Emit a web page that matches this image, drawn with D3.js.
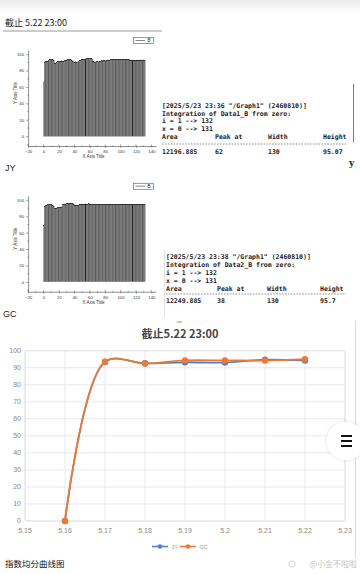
<!DOCTYPE html>
<html><head><meta charset="utf-8">
<script src="https://cdn.jsdelivr.net/npm/d3@7"></script>
<style>
html,body{margin:0;padding:0;background:#fff;}
svg{display:block;}
</style></head>
<body>
<svg id="c" width="360" height="574"></svg>
<script>
// ---------- data ----------
const barsData1 = [66.2,
 90.4, 90.9, 91.3, 91.0, 91.6, 92.1, 92.6,
 93.2, 93.6, 93.8, 93.5, 93.1, 92.4,
 89.1, 88.4, 88.7, 89.6,
 91.0, 91.3, 91.5, 91.4, 91.6, 91.8, 91.5, 91.3, 91.6, 91.9, 92.2, 92.6, 93.0,
 93.4, 93.6, 93.5, 93.7, 93.4, 92.8, 91.9,
 90.9, 90.6, 90.4, 90.7, 90.5, 90.3, 90.6, 90.8, 91.2, 91.9, 92.8,
 93.4, 93.6, 93.8, 93.7, 94.0, 94.2, 94.1, 94.3, 94.5, 94.4, 94.6, 94.8, 94.9, 95.07, 94.2,
 91.3, 90.7, 90.5, 90.6, 90.4, 90.7, 90.8, 90.6, 91.0, 91.4,
 91.7, 91.9, 92.0, 91.8, 91.9, 92.1, 91.8, 91.9, 92.0, 92.2, 92.1, 92.4, 92.8, 93.2,
 93.4, 93.5, 93.6, 93.5, 93.7, 93.6, 93.5, 93.4, 93.6, 93.7, 93.5, 93.6, 93.4, 93.5, 93.6,
 93.7, 93.5, 93.4, 93.6, 93.5, 93.3, 93.5, 93.4, 93.2, 93.0, 92.9,
 92.7, 92.6, 92.8, 92.7, 92.5, 92.6, 92.8, 92.9, 92.7, 92.6, 92.8, 92.9, 93.0, 92.8, 92.7,
 92.9, 93.0, 92.8];
const barsData2 = [68.4,
 91.6, 92.3,
 93.5, 93.8, 93.9, 94.0, 93.8, 93.9, 94.1, 93.9, 93.7, 93.6, 92.4,
 89.3, 88.8, 89.5,
 90.1, 90.4, 90.3, 90.6, 90.5, 90.8, 91.4, 92.6,
 94.3, 94.8, 95.0, 95.1, 94.9, 95.2, 95.3,
 95.4, 95.3, 95.5, 95.4, 95.6, 95.5, 95.7,
 93.9, 93.4, 93.5, 93.3, 93.6, 93.5, 93.4, 93.9,
 94.6, 94.8, 94.9, 95.0, 94.8, 94.7, 94.9, 95.1, 95.0, 94.8, 94.9, 95.2, 95.1, 95.0, 94.7, 94.5,
 94.1, 94.2, 94.3, 94.2, 94.4, 94.3, 94.2, 94.1, 94.3, 94.4, 94.2, 94.3, 94.1, 94.2, 94.4, 94.3,
 94.2, 94.0, 94.1, 94.3, 94.2, 94.4, 94.3, 94.1, 94.2, 94.3, 94.2, 94.4, 94.3, 94.5, 94.4, 94.5,
 94.6, 94.7, 94.5, 94.6, 94.8, 94.7, 94.6, 94.5, 94.7, 94.6, 94.8, 94.7, 94.6, 94.5, 94.6, 94.7,
 94.6, 94.8, 94.7, 94.5, 94.6, 94.7, 94.6, 94.5, 94.7, 94.8, 94.6, 94.7, 94.5, 94.6, 94.7, 94.6,
 94.8, 94.7, 94.6, 94.5, 94.6];
const originXTicks = [-20, 0, 20, 40, 60, 80, 100, 120, 140];
const originYTicks = [0, 20, 40, 60, 80, 100];
const table1 = ['[2025/5/23 23:36 "/Graph1" (2460810)]', 'Integration of Data1_B from zero:', 'i = 1 --> 132', 'x = 0 --> 131'];
const table2 = ['[2025/5/23 23:38 "/Graph1" (2460810)]', 'Integration of Data2_B from zero:', 'i = 1 --> 132', 'x = 0 --> 131'];
const tableHead = ['Area', 'Peak at', 'Width', 'Height'];
const tableVals1 = ['12196.885', '62', '130', '95.07'];
const tableVals2 = ['12249.885', '38', '130', '95.7'];

const dates = ["5.15", "5.16", "5.17", "5.18", "5.19", "5.2", "5.21", "5.22", "5.23"];
const jy = [null, 0, 93.4, 92.6, 93.2, 93.0, 94.7, 94.2, null];
const gc = [null, 0, 93.6, 92.5, 94.3, 94.3, 94.2, 95.0, null];
const yTicksLine = [0, 10, 20, 30, 40, 50, 60, 70, 80, 90, 100];
const seriesNames = ["JY", "GC"];
const seriesColors = ["#4f7fd4", "#ee7a2f"];

// ---------- drawing ----------
const svg = d3.select("#c");
const defs = svg.append("defs");
const grad = defs.append("linearGradient").attr("id", "topg").attr("x1", 0).attr("x2", 0).attr("y1", 0).attr("y2", 1);
grad.append("stop").attr("offset", 0).attr("stop-color", "#ececec");
grad.append("stop").attr("offset", 1).attr("stop-color", "#ffffff");
svg.append("rect").attr("x", 0).attr("y", 0).attr("width", 360).attr("height", 14).attr("fill", "url(#topg)");

const sans = "'Liberation Sans', Arial, 'Noto Sans CJK SC', sans-serif";
const cjk = "'Noto Sans CJK SC', 'Liberation Sans', sans-serif";
const mono = "'DejaVu Sans Mono', 'Liberation Mono', monospace";

svg.append("text").attr("x", 5).attr("y", 26).attr("font-family", cjk).attr("font-size", 9)
  .attr("fill", "#222").text("截止 5.22 23:00");
svg.append("line").attr("x1", 3).attr("x2", 162).attr("y1", 31).attr("y2", 31).attr("stroke", "#999").attr("stroke-width", 1);

function drawOrigin(values, oy) {
  const g = svg.append("g");
  const x = d3.scaleLinear().domain([-20, 146]).range([28.1, 156]);
  const y = d3.scaleLinear().domain([-12, 105]).range([oy + 146, oy + 50.1]);
  const bw = x(1) - x(0);
  g.selectAll("rect.bar").data(values).join("rect").attr("class", "bar")
    .attr("x", (d, i) => x(i) - bw / 2 + 0.4)
    .attr("width", bw)
    .attr("y", d => y(d))
    .attr("height", d => y(0) - y(d))
    .attr("fill", "#888888")
    .attr("stroke", "#1a1a1a")
    .attr("stroke-width", 0.2);
  // axes
  const xa = d3.axisBottom(x).tickValues(originXTicks).tickSize(2).tickSizeOuter(0).tickPadding(2);
  const xg = g.append("g").attr("transform", `translate(0,${y(-12)})`).call(xa);
  const ya = d3.axisLeft(y).tickValues(originYTicks).tickSize(2).tickSizeOuter(0).tickPadding(2);
  const yg = g.append("g").attr("transform", `translate(${x(-20)},0)`).call(ya);
  [xg, yg].forEach(a => {
    a.selectAll("path").attr("stroke", "#444").attr("stroke-width", 0.6);
    a.selectAll("line").attr("stroke", "#444").attr("stroke-width", 0.5);
    a.selectAll("text").attr("font-family", sans).attr("font-size", 4.3).attr("fill", "#333");
  });
  g.selectAll("line.xin").data(originXTicks).join("line")
    .attr("x1", d => x(d)).attr("x2", d => x(d)).attr("y1", y(-12)).attr("y2", y(-12) - 1.5)
    .attr("stroke", "#444").attr("stroke-width", 0.5);
  g.selectAll("line.xmin").data(originXTicks.slice(0, -1).map(d => d + 10)).join("line")
    .attr("x1", d => x(d)).attr("x2", d => x(d)).attr("y1", y(-12) - 1).attr("y2", y(-12) + 1)
    .attr("stroke", "#555").attr("stroke-width", 0.4);
  g.selectAll("line.ymin").data(originYTicks.map(d => d - 10).filter(d => d > -12)).join("line")
    .attr("x1", x(-20) - 1).attr("x2", x(-20) + 1).attr("y1", d => y(d)).attr("y2", d => y(d))
    .attr("stroke", "#555").attr("stroke-width", 0.4);
  g.append("text").attr("x", 93.5).attr("y", oy + 158).attr("text-anchor", "middle")
    .attr("font-family", sans).attr("font-size", 4.5).attr("fill", "#333").text("X Axis Title");
  g.append("text").attr("transform", `translate(16.5,${oy + 93}) rotate(-90)`).attr("text-anchor", "middle")
    .attr("font-family", sans).attr("font-size", 4.5).attr("fill", "#333").text("Y Axis Title");
  g.append("rect").attr("x", 133.5).attr("y", oy + 37.5).attr("width", 20).attr("height", 6)
    .attr("fill", "#fff").attr("stroke", "#333").attr("stroke-width", 0.5);
  g.append("line").attr("x1", 135.5).attr("x2", 145).attr("y1", oy + 40.5).attr("y2", oy + 40.5)
    .attr("stroke", "#333").attr("stroke-width", 0.6);
  g.append("text").attr("x", 147.5).attr("y", oy + 42.3).attr("font-family", sans).attr("font-size", 4.5)
    .attr("fill", "#222").text("B");
}
drawOrigin(barsData1, 0);
drawOrigin(barsData2, 145.7);

function drawTable(lines, vals, x0, cols, baselines, dashY) {
  const g = svg.append("g").attr("font-family", mono).attr("font-size", 6.5).attr("font-weight", "bold").attr("fill", "#1a1a1a");
  lines.forEach((t, i) => g.append("text").attr("x", x0).attr("y", baselines[i]).attr("xml:space", "preserve").text(t));
  tableHead.forEach((t, i) => g.append("text").attr("x", cols[i]).attr("y", baselines[4]).text(t));
  vals.forEach((t, i) => g.append("text").attr("x", cols[i]).attr("y", baselines[5]).text(t));
  svg.append("line").attr("x1", x0).attr("x2", 346).attr("y1", dashY).attr("y2", dashY)
    .attr("stroke", "#444").attr("stroke-width", 0.6).attr("stroke-dasharray", "1.6,1.3");
}
drawTable(table1, tableVals1, 162, [162, 215, 268, 323], [107.5, 115.5, 123, 131, 139, 153.5], 144);
drawTable(table2, tableVals2, 166, [166, 217, 267, 320], [259, 267, 275, 282.5, 290.5, 302.5], 294);
svg.append("line").attr("x1", 353.5).attr("x2", 353.5).attr("y1", 84).attr("y2", 142).attr("stroke", "#555").attr("stroke-width", 0.8);
svg.append("line").attr("x1", 164.5).attr("x2", 164.5).attr("y1", 250).attr("y2", 318).attr("stroke", "#ccc").attr("stroke-width", 0.6);
svg.append("text").attr("x", 349).attr("y", 166).attr("font-family", "'DejaVu Serif', serif").attr("font-weight", "bold")
  .attr("font-size", 9).attr("fill", "#222").text("y");

svg.append("text").attr("x", 5).attr("y", 171).attr("font-family", sans).attr("font-size", 9).attr("fill", "#222").text("JY");
svg.append("text").attr("x", 3).attr("y", 317).attr("font-family", sans).attr("font-size", 9).attr("fill", "#222").text("GC");

// ---------- line chart ----------
const lx = d3.scalePoint().domain(dates).range([25, 345]);
const ly = d3.scaleLinear().domain([0, 100]).range([521, 350.7]);
const lg = svg.append("g");
lg.append("line").attr("x1", 177).attr("x2", 182).attr("y1", 322).attr("y2", 322).attr("stroke", "#777").attr("stroke-width", 0.8);
lg.append("text").attr("x", 180).attr("y", 337.5).attr("text-anchor", "middle").attr("font-family", cjk)
  .attr("font-weight", "bold").attr("font-size", 11).attr("fill", "#444").text("截止5.22 23:00");
lg.selectAll("line.hg").data(yTicksLine).join("line")
  .attr("x1", 25).attr("x2", 345).attr("y1", d => ly(d)).attr("y2", d => ly(d))
  .attr("stroke", "#e3e3e3").attr("stroke-width", 0.8);
lg.selectAll("line.vg").data(dates).join("line")
  .attr("x1", d => lx(d)).attr("x2", d => lx(d)).attr("y1", ly(100)).attr("y2", ly(0))
  .attr("stroke", "#e3e3e3").attr("stroke-width", 0.8);
lg.append("rect").attr("x", 25).attr("y", ly(100)).attr("width", 320).attr("height", ly(0) - ly(100))
  .attr("rx", 3).attr("fill", "none").attr("stroke", "#e0e0e0").attr("stroke-width", 0.8);
lg.selectAll("text.yl").data(yTicksLine).join("text")
  .attr("x", 21).attr("y", d => ly(d) + 2.4).attr("text-anchor", "end")
  .attr("font-family", sans).attr("font-size", 7).attr("fill", "#888").text(d => d);
lg.selectAll("text.xl").data(dates).join("text")
  .attr("x", d => lx(d)).attr("y", 533).attr("text-anchor", "middle")
  .attr("font-family", sans).attr("font-size", 7).attr("fill", "#888").text(d => d);

const series = [jy, gc];
const lineGen = d3.line().defined(d => d.v != null).x(d => lx(d.k)).y(d => ly(d.v)).curve(d3.curveCatmullRom.alpha(0.5));
series.forEach((s, si) => {
  const pts = dates.map((k, i) => ({ k, v: s[i] }));
  lg.append("path").datum(pts).attr("d", lineGen).attr("fill", "none")
    .attr("stroke", seriesColors[si]).attr("stroke-width", 1.8);
  lg.selectAll(null).data(pts.filter(p => p.v != null)).join("circle")
    .attr("cx", p => lx(p.k)).attr("cy", p => ly(p.v)).attr("r", 3.2)
    .attr("fill", seriesColors[si]);
});
const legX = [152, 180];
seriesNames.forEach((n, i) => {
  lg.append("line").attr("x1", legX[i]).attr("x2", legX[i] + 16).attr("y1", 546.5).attr("y2", 546.5)
    .attr("stroke", seriesColors[i]).attr("stroke-width", 1.6);
  lg.append("circle").attr("cx", legX[i] + 8).attr("cy", 546.5).attr("r", 2.3).attr("fill", seriesColors[i]);
  lg.append("text").attr("x", legX[i] + 19.5).attr("y", 548.5).attr("font-family", sans).attr("font-size", 5.5)
    .attr("fill", "#999").text(n);
});

svg.append("line").attr("x1", 355.5).attr("x2", 355.5).attr("y1", 321).attr("y2", 558).attr("stroke", "#cfcfcf").attr("stroke-width", 0.8);
const shadow = defs.append("filter").attr("id", "sh").attr("x", "-50%").attr("y", "-50%").attr("width", "200%").attr("height", "200%");
shadow.append("feDropShadow").attr("dx", 0).attr("dy", 0).attr("stdDeviation", 2).attr("flood-color", "#000").attr("flood-opacity", 0.12);
svg.append("circle").attr("cx", 346).attr("cy", 441).attr("r", 19).attr("fill", "#fff").attr("filter", "url(#sh)");
[436, 441, 446].forEach(yy => svg.append("line").attr("x1", 341).attr("x2", 352).attr("y1", yy).attr("y2", yy)
  .attr("stroke", "#111").attr("stroke-width", 2));

svg.append("text").attr("x", 5).attr("y", 567).attr("font-family", cjk).attr("font-size", 8.5).attr("fill", "#111").text("指数均分曲线图");
svg.append("text").attr("x", 357).attr("y", 567).attr("text-anchor", "end").attr("font-family", cjk).attr("font-size", 8)
  .attr("fill", "#c4c4c4").text("@小金不啦啦");
svg.append("circle").attr("cx", 292).attr("cy", 564).attr("r", 3.2).attr("fill", "none").attr("stroke", "#ccc").attr("stroke-width", 0.8);
</script>
</body></html>
